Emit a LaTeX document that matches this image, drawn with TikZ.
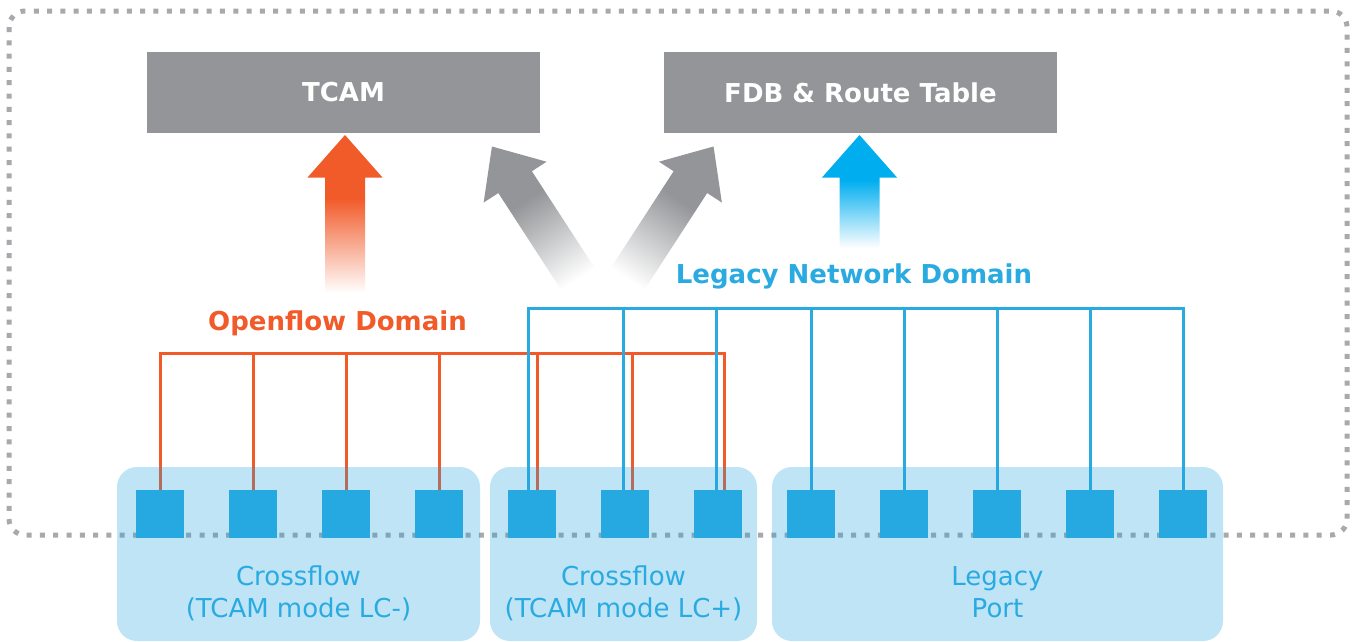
\documentclass[tikz,border=0pt]{standalone}
\usepackage{fontspec}
\setmainfont{DejaVu Sans}
\definecolor{ofOrange}{RGB}{241,90,41}
\definecolor{lgBlue}{RGB}{41,171,226}
\definecolor{arBlue}{RGB}{0,174,239}
\definecolor{boxGray}{RGB}{147,149,152}
\definecolor{dotGray}{RGB}{167,169,172}
\definecolor{sqBlue}{RGB}{37,169,224}
\definecolor{panelBlue}{RGB}{27,160,222}
\pgfdeclareverticalshading{fadeorange}{100bp}{color(0bp)=(white); color(25bp)=(white); color(55bp)=(ofOrange); color(100bp)=(ofOrange)}
\pgfdeclareverticalshading{fadeblue}{100bp}{color(0bp)=(white); color(25bp)=(white); color(55bp)=(arBlue); color(100bp)=(arBlue)}
\pgfdeclareverticalshading{fadegray}{100bp}{color(0bp)=(white); color(25bp)=(white); color(55bp)=(boxGray); color(100bp)=(boxGray)}
\begin{document}
\begin{tikzpicture}[x=1pt,y=-1pt,
  every node/.style={font=\fontsize{26}{31}\selectfont, inner sep=0pt},
  port/.style={fill=sqBlue, minimum size=48pt, inner sep=0pt},
  panel/.style={fill=panelBlue, fill opacity=0.28, rounded corners=20pt},
  oline/.style={draw=ofOrange, line width=3pt},
  bline/.style={draw=lgBlue, line width=3pt},
  graybox/.style={fill=boxGray, minimum width=393pt, minimum height=81pt, text=white, font=\fontsize{26}{31}\selectfont\bfseries},
  paneltext/.style={anchor=base, text=lgBlue},
  domtext/.style={anchor=base, font=\fontsize{26}{31}\selectfont\bfseries},
  ]
\useasboundingbox (0,0) rectangle (1352,641);
\fill[white] (0,0) rectangle (1352,641);

% dotted outer border
\draw[dotGray, line width=5pt, dash pattern=on 5pt off 8.3pt, rounded corners=16pt] (9,11) rectangle (1347,535);

% ports
\node[port] (p1) at (160,514) {};
\node[port] (p2) at (253,514) {};
\node[port] (p3) at (346,514) {};
\node[port] (p4) at (439,514) {};
\node[port] (p5) at (532,514) {};
\node[port] (p6) at (625,514) {};
\node[port] (p7) at (718,514) {};
\node[port] (p8) at (811,514) {};
\node[port] (p9) at (904,514) {};
\node[port] (p10) at (997,514) {};
\node[port] (p11) at (1090,514) {};
\node[port] (p12) at (1183,514) {};

% bus coordinates
\coordinate (ob) at (0,353);
\coordinate (bb) at (0,308);
\coordinate (o5) at ([xshift=5pt]p5.north);
\coordinate (o6) at ([xshift=7pt]p6.north);
\coordinate (o7) at ([xshift=6pt]p7.north);
\coordinate (b5) at ([xshift=-4pt]p5.north);
\coordinate (b6) at ([xshift=-2pt]p6.north);
\coordinate (b7) at ([xshift=-2pt]p7.north);

% openflow lines
\draw[oline] (p1.north) -- (p1.north |- ob) -- (o7 |- ob) -- (o7);
\draw[oline] (p2.north) -- (p2.north |- ob);
\draw[oline] (p3.north) -- (p3.north |- ob);
\draw[oline] (p4.north) -- (p4.north |- ob);
\draw[oline] (o5) -- (o5 |- ob);
\draw[oline] (o6) -- (o6 |- ob);

% legacy lines
\draw[bline] (b5) -- (b5 |- bb) -- (p12.north |- bb) -- (p12.north);
\draw[bline] (b6) -- (b6 |- bb);
\draw[bline] (b7) -- (b7 |- bb);
\draw[bline] (p8.north) -- (p8.north |- bb);
\draw[bline] (p9.north) -- (p9.north |- bb);
\draw[bline] (p10.north) -- (p10.north |- bb);
\draw[bline] (p11.north) -- (p11.north |- bb);

% panels (translucent, over lines and dots)
\path[panel] (117,467) rectangle (480,641);
\path[panel] (490,467) rectangle (757,641);
\path[panel] (772,467) rectangle (1223,641);

% redraw ports on top
\foreach \n in {p1,p2,p3,p4,p5,p6,p7,p8,p9,p10,p11,p12}{
  \fill[sqBlue] (\n.south west) rectangle (\n.north east);
}

% panel texts
\node[paneltext] (t1a) at (298.5,585) {Crossflow};
\node[paneltext] (t1b) at (298.5,617) {(TCAM mode LC-)};
\node[paneltext] (t2a) at (623.5,585) {Crossflow};
\node[paneltext] (t2b) at (623.5,617) {(TCAM mode LC+)};
\node[paneltext] (t3a) at (997.5,585) {Legacy};
\node[paneltext] (t3b) at (997.5,617) {Port};

% domain labels
\node[domtext, text=ofOrange] (ofd) at (337.5,330) {Openflow Domain};
\node[domtext, text=lgBlue] (lnd) at (854,283) {Legacy Network Domain};

% tables
\node[graybox] (tcam) at (343.5,92.5) {TCAM};
\node[graybox] (fdb) at (860.5,92.5) {FDB \& Route Table};

% vertical arrows
\shade[shading=fadeorange] (325,293) -- (325,177.5) -- (307.5,177.5) -- (345,135) -- (382.5,177.5) -- (365,177.5) -- (365,293) -- cycle;
\shade[shading=fadeblue] (839.5,248) -- (839.5,177.5) -- (822,177.5) -- (859.5,135) -- (897,177.5) -- (879.5,177.5) -- (879.5,248) -- cycle;

% slanted gray arrows
\begin{scope}[transform canvas={shift={(578,279)},rotate=33}]
\shade[shading=fadegray] (-20,0) -- (-20,-115.5) -- (-37.5,-115.5) -- (0,-158) -- (37.5,-115.5) -- (20,-115.5) -- (20,0) -- cycle;
\end{scope}
\begin{scope}[transform canvas={shift={(627.5,279)},rotate=-33}]
\shade[shading=fadegray] (-20,0) -- (-20,-115.5) -- (-37.5,-115.5) -- (0,-158) -- (37.5,-115.5) -- (20,-115.5) -- (20,0) -- cycle;
\end{scope}
\end{tikzpicture}
\end{document}
